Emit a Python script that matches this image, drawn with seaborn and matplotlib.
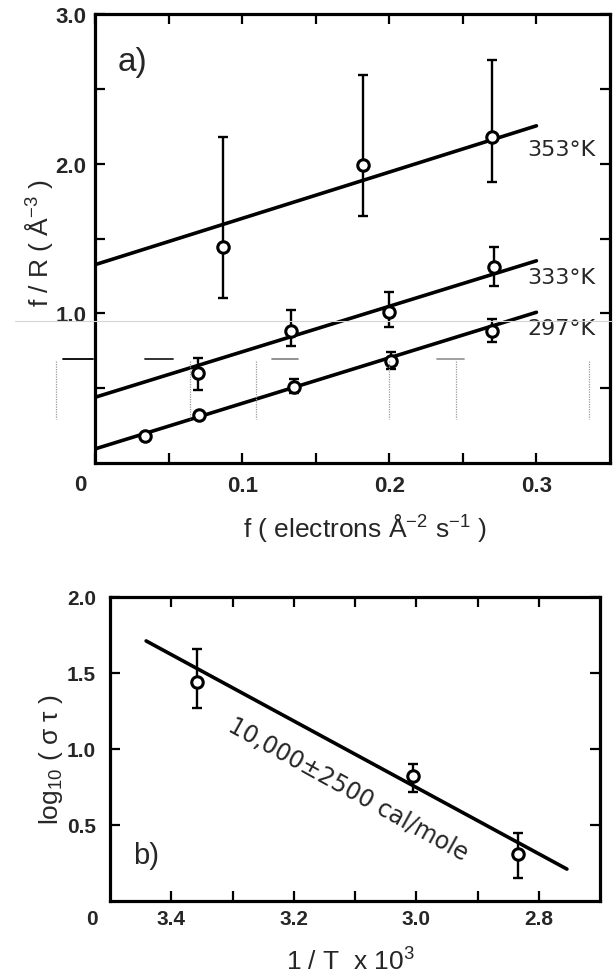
import matplotlib
matplotlib.use("Agg")
import matplotlib.pyplot as plt
from matplotlib.lines import Line2D
import numpy as np
import seaborn as sns

# ---- panel a: f/R against electron flux f at three temperatures ----
flux_353 = [0.087, 0.182, 0.270]
fr_353 = [1.44, 1.99, 2.18]
lo_353 = [1.10, 1.65, 1.88]
hi_353 = [2.18, 2.59, 2.69]

flux_333 = [0.070, 0.133, 0.200, 0.271]
fr_333 = [0.60, 0.88, 1.01, 1.31]
lo_333 = [0.49, 0.78, 0.91, 1.18]
hi_333 = [0.70, 1.02, 1.14, 1.44]

flux_297 = [0.034, 0.071, 0.135, 0.201, 0.270]
fr_297 = [0.18, 0.32, 0.51, 0.68, 0.88]
lo_297 = [0.18, 0.32, 0.47, 0.63, 0.81]
hi_297 = [0.18, 0.32, 0.56, 0.74, 0.96]

fit_x = [0.0, 0.30]
fit_353 = [1.325, 2.253]
fit_333 = [0.439, 1.351]
fit_297 = [0.094, 1.007]

temp_labels = ["353°K", "333°K", "297°K"]
temp_label_y = [2.10, 1.24, 0.90]

a_xticks = [0.0, 0.1, 0.2, 0.3]
a_xticklabels = ["", "0.1", "0.2", "0.3"]
a_yticks = [1.0, 2.0, 3.0]
a_yticklabels = ["1.0", "2.0", "3.0"]

# ---- panel b: Arrhenius plot of log10(sigma tau) ----
inv_T = [3.358, 3.006, 2.834]
log_st = [1.44, 0.82, 0.31]
log_lo = [1.27, 0.72, 0.15]
log_hi = [1.66, 0.90, 0.45]

arr_x = [3.441, 2.754]
arr_y = [1.711, 0.210]

b_xticks = [3.4, 3.2, 3.0, 2.8]
b_xticklabels = ["3.4", "3.2", "3.0", "2.8"]
b_yticks = [0.5, 1.0, 1.5, 2.0]
b_yticklabels = ["0.5", "1.0", "1.5", "2.0"]

sns.set_style("ticks")
plt.rcParams["font.family"] = ["Liberation Sans", "DejaVu Sans"]
plt.rcParams["mathtext.fontset"] = "custom"
plt.rcParams["mathtext.rm"] = "Liberation Sans"
plt.rcParams["mathtext.it"] = "Liberation Sans:italic"
plt.rcParams["mathtext.bf"] = "Liberation Sans:bold"

W, H = 616, 978
fig = plt.figure(figsize=(W / 100, H / 100), dpi=100)
fig.patch.set_facecolor("white")

ax_a = fig.add_axes([95 / W, 1 - 464 / H, 515 / W, 449 / H])
ax_b = fig.add_axes([110 / W, 1 - 902 / H, 490 / W, 304 / H])

LINE_W = 2.6
SPINE_W = 2.3


def draw_series(ax, x, y, lo, hi):
    x = np.asarray(x)
    y = np.asarray(y)
    lo = np.asarray(lo)
    hi = np.asarray(hi)
    has_err = (hi - lo) > 1e-9
    if has_err.any():
        ax.errorbar(x[has_err], y[has_err],
                    yerr=[y[has_err] - lo[has_err], hi[has_err] - y[has_err]],
                    fmt="none", ecolor="black", elinewidth=1.7,
                    capsize=3.8, capthick=1.7, zorder=3)
    sns.scatterplot(x=x, y=y, ax=ax, marker="o", s=68, facecolor="white",
                    edgecolor="black", linewidth=2.2, zorder=5, legend=False)


def style_axes(ax):
    for sp in ax.spines.values():
        sp.set_visible(True)
        sp.set_linewidth(SPINE_W)
        sp.set_color("black")
    ax.tick_params(which="both", direction="in", top=True, right=True,
                   length=7, width=1.6, color="black")
    ax.set_facecolor("white")
    ax.grid(False)


# ---- panel a ----
for fy in (fit_353, fit_333, fit_297):
    sns.lineplot(x=fit_x, y=fy, ax=ax_a, color="black", linewidth=LINE_W,
                 zorder=2, legend=False)
draw_series(ax_a, flux_353, fr_353, lo_353, hi_353)
draw_series(ax_a, flux_333, fr_333, lo_333, hi_333)
draw_series(ax_a, flux_297, fr_297, lo_297, hi_297)

ax_a.set_xlim(0, 0.350)
ax_a.set_ylim(0, 3.0)
style_axes(ax_a)
ax_a.set_xticks(a_xticks, a_xticklabels)
ax_a.set_xticks([0.05, 0.15, 0.25], minor=True)
ax_a.set_yticks(a_yticks, a_yticklabels)
ax_a.set_yticks([0.5, 1.5, 2.5], minor=True)
ax_a.tick_params(axis="x", which="both", pad=9, labelsize=16)
ax_a.tick_params(axis="y", which="both", pad=6, labelsize=16)
for lbl in ax_a.get_xticklabels() + ax_a.get_yticklabels():
    lbl.set_fontweight("bold")
ax_a.text(-0.010, -0.047, "0", transform=ax_a.get_xaxis_transform(),
          ha="center", va="center", fontsize=16, fontweight="bold")

for lab, ly in zip(temp_labels, temp_label_y):
    ax_a.text(0.294, ly, lab, ha="left", va="center", fontsize=16,
              family=["DejaVu Sans"])

ax_a.text(0.0156, 2.68, "a)", ha="left", va="center", fontsize=24)

ax_a.set_xlabel(r"f ( electrons Å$^{-2}$ s$^{-1}$ )", fontsize=19)
ax_a.xaxis.set_label_coords(0.524, -0.1425)
ax_a.xaxis.label.set_verticalalignment("center")
ax_a.set_ylabel(r"f / R ( Å$^{-3}$ )", fontsize=19)
ax_a.yaxis.set_label_coords(-0.109, 0.492)
ax_a.yaxis.label.set_verticalalignment("center")

# ---- panel b ----
sns.lineplot(x=arr_x, y=arr_y, ax=ax_b, color="black", linewidth=LINE_W,
             zorder=2, legend=False, sort=False)
draw_series(ax_b, inv_T, log_st, log_lo, log_hi)

ax_b.set_xlim(3.5, 2.7)
ax_b.set_ylim(0, 2.0)
style_axes(ax_b)
ax_b.set_xticks(b_xticks, b_xticklabels)
ax_b.set_xticks([3.3, 3.1, 2.9], minor=True)
ax_b.set_yticks(b_yticks, b_yticklabels)
ax_b.tick_params(axis="x", which="both", pad=6, labelsize=15)
ax_b.tick_params(axis="y", which="both", pad=10, labelsize=15)
for lbl in ax_b.get_xticklabels() + ax_b.get_yticklabels():
    lbl.set_fontweight("bold")
ax_b.text(3.529, -0.059, "0", transform=ax_b.get_xaxis_transform(),
          ha="center", va="center", fontsize=15, fontweight="bold")

ax_b.text(3.111, 0.737, "10,000±2500 cal/mole", rotation=-29,
          rotation_mode="anchor", ha="center", va="center", fontsize=17,
          family=["DejaVu Sans"])
ax_b.text(3.463, 0.30, "b)", ha="left", va="center", fontsize=21)

ax_b.set_xlabel(r"1 / T  x 10$^{3}$", fontsize=19)
ax_b.xaxis.set_label_coords(0.491, -0.197)
ax_b.xaxis.label.set_verticalalignment("center")
ax_b.set_ylabel(r"log$_{10}$ ( σ τ )", fontsize=19)
ax_b.yaxis.set_label_coords(-0.120, 0.467)
ax_b.yaxis.label.set_verticalalignment("center")


# ---- faint rule and dotted guide marks across the lower part of panel a ----
def fig_line(x0, x1, y0, y1, **kw):
    fig.add_artist(Line2D([x0 / W, x1 / W], [1 - y0 / H, 1 - y1 / H],
                          transform=fig.transFigure, **kw))


fig_line(15, 612, 322, 322, color="#d4d4d4", linewidth=0.8, zorder=10)
for x0, x1, col in [(63, 93, "black"), (145, 173, "#222222"),
                    (272, 298, "#888888"), (437, 464, "#999999")]:
    fig_line(x0, x1, 360, 360, color=col, linewidth=1.3, zorder=10)
for xv in (56, 190, 256, 389, 456, 589):
    fig_line(xv, xv, 362, 420, color="#9a9a9a", linewidth=0.9,
             linestyle=(0, (1, 1)), zorder=10)

fig.savefig("out.png", dpi=100, facecolor="white")
